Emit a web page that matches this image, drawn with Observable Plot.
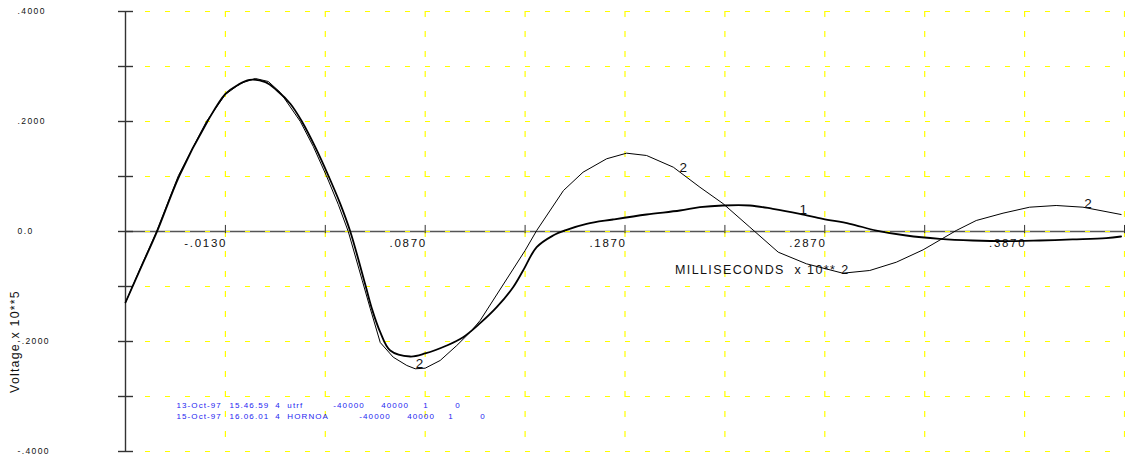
<!DOCTYPE html>
<html>
<head>
<meta charset="utf-8">
<script src="https://cdn.jsdelivr.net/npm/d3@7"></script>
<script src="https://cdn.jsdelivr.net/npm/@observablehq/plot@0.6"></script>
<style>
  html, body { margin: 0; padding: 0; background: #fff; }
  #chart { width: 1125px; height: 455px; overflow: hidden; }
</style>
</head>
<body>
<div id="chart"></div>
<script>
// ---------- data ----------
const xTickValues = [-0.013, 0.087, 0.187, 0.287, 0.387];
const xTickLabels = ["-.0130", ".0870", ".1870", ".2870", ".3870"];
const xGridValues = [-0.013, 0.037, 0.087, 0.137, 0.187, 0.237, 0.287, 0.337, 0.387, 0.437];
const yTickValues = [-0.4, -0.3, -0.2, -0.1, 0, 0.1, 0.2, 0.3, 0.4];
const yLabelValues = [0.4, 0.2, 0, -0.2, -0.4];
const yLabelTexts = [".4000", ".2000", "0.0", "-.2000", "-.4000"];

// series 1 (measured, noisy trace)
const s1x = [-0.063, -0.055, -0.0472, -0.036, -0.022, -0.013, -0.0072, -0.001, 0.007, 0.0128, 0.0195, 0.0253, 0.032, 0.0385, 0.0445, 0.0495,
  0.057, 0.0603, 0.0645, 0.0695, 0.0795, 0.087, 0.0978, 0.106, 0.1145, 0.1228, 0.131, 0.136, 0.1428, 0.151, 0.1578, 0.1678, 0.181,
  0.1978, 0.2145, 0.2245, 0.236, 0.2495, 0.261, 0.2745, 0.286, 0.2995, 0.3128, 0.3278, 0.3445, 0.361, 0.3778, 0.3945, 0.411, 0.4278, 0.4353];
const s1y = [-0.1291, -0.0636, 0, 0.1018, 0.2, 0.2504, 0.2655, 0.2758, 0.2715, 0.2564, 0.2322, 0.2, 0.1533, 0.1018, 0.0503, 0,
  -0.0964, -0.14, -0.1831, -0.2164, -0.2273, -0.2218, -0.2073, -0.1922, -0.1667, -0.1376, -0.1013, -0.0709, -0.0285, -0.0073, 0.0031, 0.014, 0.0218,
  0.0309, 0.0382, 0.0442, 0.0473, 0.0473, 0.0413, 0.0322, 0.0231, 0.014, 0.0018, -0.0073, -0.0133, -0.0164, -0.0176, -0.0164, -0.0145, -0.0122, -0.0091];

// series 2 (model, polyline)
const s2x = [-0.063, -0.055, -0.0475, -0.0365, -0.0225, -0.013, -0.0055, 0.002, 0.0085, 0.0145, 0.0245, 0.031, 0.0375, 0.0435, 0.0485,
  0.0555, 0.0595, 0.0645, 0.071, 0.0778, 0.082, 0.087, 0.0945, 0.1028, 0.1095, 0.1145, 0.137, 0.1428, 0.1562, 0.166, 0.1778, 0.1878,
  0.1978, 0.2112, 0.2245, 0.236, 0.2495, 0.2637, 0.2778, 0.296, 0.3095, 0.3228, 0.3362, 0.3528, 0.3628, 0.3762, 0.3895, 0.4028, 0.4162, 0.4353];
const s2y = [-0.1291, -0.0618, 0, 0.1018, 0.2, 0.2491, 0.2691, 0.2782, 0.2727, 0.2527, 0.2, 0.1545, 0.1018, 0.0491, 0,
  -0.0891, -0.14, -0.2018, -0.2285, -0.2436, -0.2496, -0.2485, -0.2345, -0.2073, -0.1831, -0.1618, -0.0345, 0.0018, 0.0745, 0.1078, 0.1322, 0.1424,
  0.1382, 0.1169, 0.0805, 0.0509, 0.0078, -0.0376, -0.0587, -0.0758, -0.0709, -0.0558, -0.0333, 0.0018, 0.02, 0.0333, 0.0442, 0.0473, 0.0442, 0.0309];

// curve number labels
const curveLabelText = ["2", "2", "2", "1"];
const curveLabelX = [0.0842, 0.2162, 0.4187, 0.2762];
const curveLabelY = [-0.2395, 0.1169, 0.0504, 0.0395];

// run log lines (blue)
const logFields1 = ["13-Oct-97", "15.46.59", "4", "utrf", "-40000", "40000", "1", "0"];
const logX1 = [-0.0375, -0.011, 0.012, 0.018, 0.041, 0.065, 0.086, 0.102];
const logY1 = -0.3164;
const logFields2 = ["15-Oct-97", "16.06.01", "4", "HORNOA", "-40000", "40000", "1", "0"];
const logX2 = [-0.0375, -0.011, 0.012, 0.018, 0.054, 0.078, 0.0985, 0.1145];
const logY2 = -0.3364;

const xTitle = "MILLISECONDS  x 10** 2";
const xTitlePos = {x: 0.212, y: -0.0709};
const yTitle = "Voltage x 10**5";
const yTitleY = -0.2;

// ---------- build tables ----------
const series1 = s1x.map((x, i) => ({x, y: s1y[i]}));
const series2 = s2x.map((x, i) => ({x, y: s2y[i]}));
const curveLabels = curveLabelText.map((t, i) => ({t, x: curveLabelX[i], y: curveLabelY[i]}));
const logRows = [
  ...logFields1.map((t, i) => ({t, x: logX1[i], y: logY1})),
  ...logFields2.map((t, i) => ({t, x: logX2[i], y: logY2}))
];
const xLabels = xTickValues.map((v, i) => ({v, t: xTickLabels[i]}));
const yLabels = yLabelValues.map((v, i) => ({v, t: yLabelTexts[i]}));

const xMin = -0.063, xMax = 0.437;
const pxX = (xMax - xMin) / 999; // data units per pixel, for tick lengths
const YEL = "#ffff00";
const chart = Plot.plot({
  width: 1125,
  height: 455,
  marginLeft: 125,
  marginRight: 1,
  marginTop: 11,
  marginBottom: 4,
  style: {fontFamily: "'Liberation Sans', Arial, sans-serif", background: "#fff", overflow: "visible"},
  x: {domain: [xMin, xMax], axis: null},
  y: {domain: [-0.4, 0.4], axis: null},
  marks: [
    // zero line
    Plot.ruleY([0], {stroke: "#555", strokeWidth: 1.4}),
    // grid
    Plot.ruleX(xGridValues, {stroke: YEL, strokeWidth: 1.2, strokeDasharray: "6,14"}),
    Plot.ruleY(yTickValues, {stroke: YEL, strokeWidth: 1.2, strokeDasharray: "5,15"}),
    // small ticks on the zero line
    Plot.ruleX(xGridValues, {y1: () => -0.004, y2: () => 0.011, stroke: "#333", strokeWidth: 1}),
    // y axis line and ticks
    Plot.ruleX([xMin], {stroke: "#333", strokeWidth: 1.4}),
    Plot.ruleY(yTickValues, {x1: () => xMin - 7 * pxX, x2: () => xMin + 8 * pxX, stroke: "#333", strokeWidth: 1.4}),
    // y labels
    Plot.text(yLabels, {y: "v", text: "t", frameAnchor: "left", textAnchor: "start", dx: -108, dy: -0.5, fontSize: 8.5, fill: "#111"}),
    // x labels
    Plot.text(xLabels, {x: "v", y: () => 0, text: "t", textAnchor: "end", dx: 1.7, dy: 12, fontSize: 11.5, fill: "#111"}),
    // titles
    Plot.text([xTitle], {x: () => xTitlePos.x, y: () => xTitlePos.y, text: d => d, textAnchor: "start", fontSize: 12.5, fill: "#111"}),
    Plot.text([yTitle], {y: () => yTitleY, text: d => d, frameAnchor: "left", textAnchor: "middle", dx: -110, rotate: -90, fontSize: 12.4, fill: "#111"}),
    // curves
    Plot.line(series2, {x: "x", y: "y", stroke: "#000", strokeWidth: 1}),
    Plot.line(series1, {x: "x", y: "y", stroke: "#000", strokeWidth: 1.8, curve: "catmull-rom"}),
    Plot.text(curveLabels, {x: "x", y: "y", text: "t", fontSize: 13.5, fill: "#111"}),
    // log lines
    Plot.text(logRows, {x: "x", y: "y", text: "t", textAnchor: "start", fontSize: 8, fill: "#2424f0"})
  ]
});

// letter spacing to imitate the wide plotter font
const spacing = {"8.5": "1.4px", "11.5": "1.7px", "12.5": "1.4px", "12.4": "1.2px", "8": "1.1px", "13.5": "0px"};
chart.querySelectorAll("g[font-size]").forEach(g => {
  const s = spacing[g.getAttribute("font-size")];
  if (s) g.style.letterSpacing = s;
});
document.getElementById("chart").appendChild(chart);
</script>
</body>
</html>
